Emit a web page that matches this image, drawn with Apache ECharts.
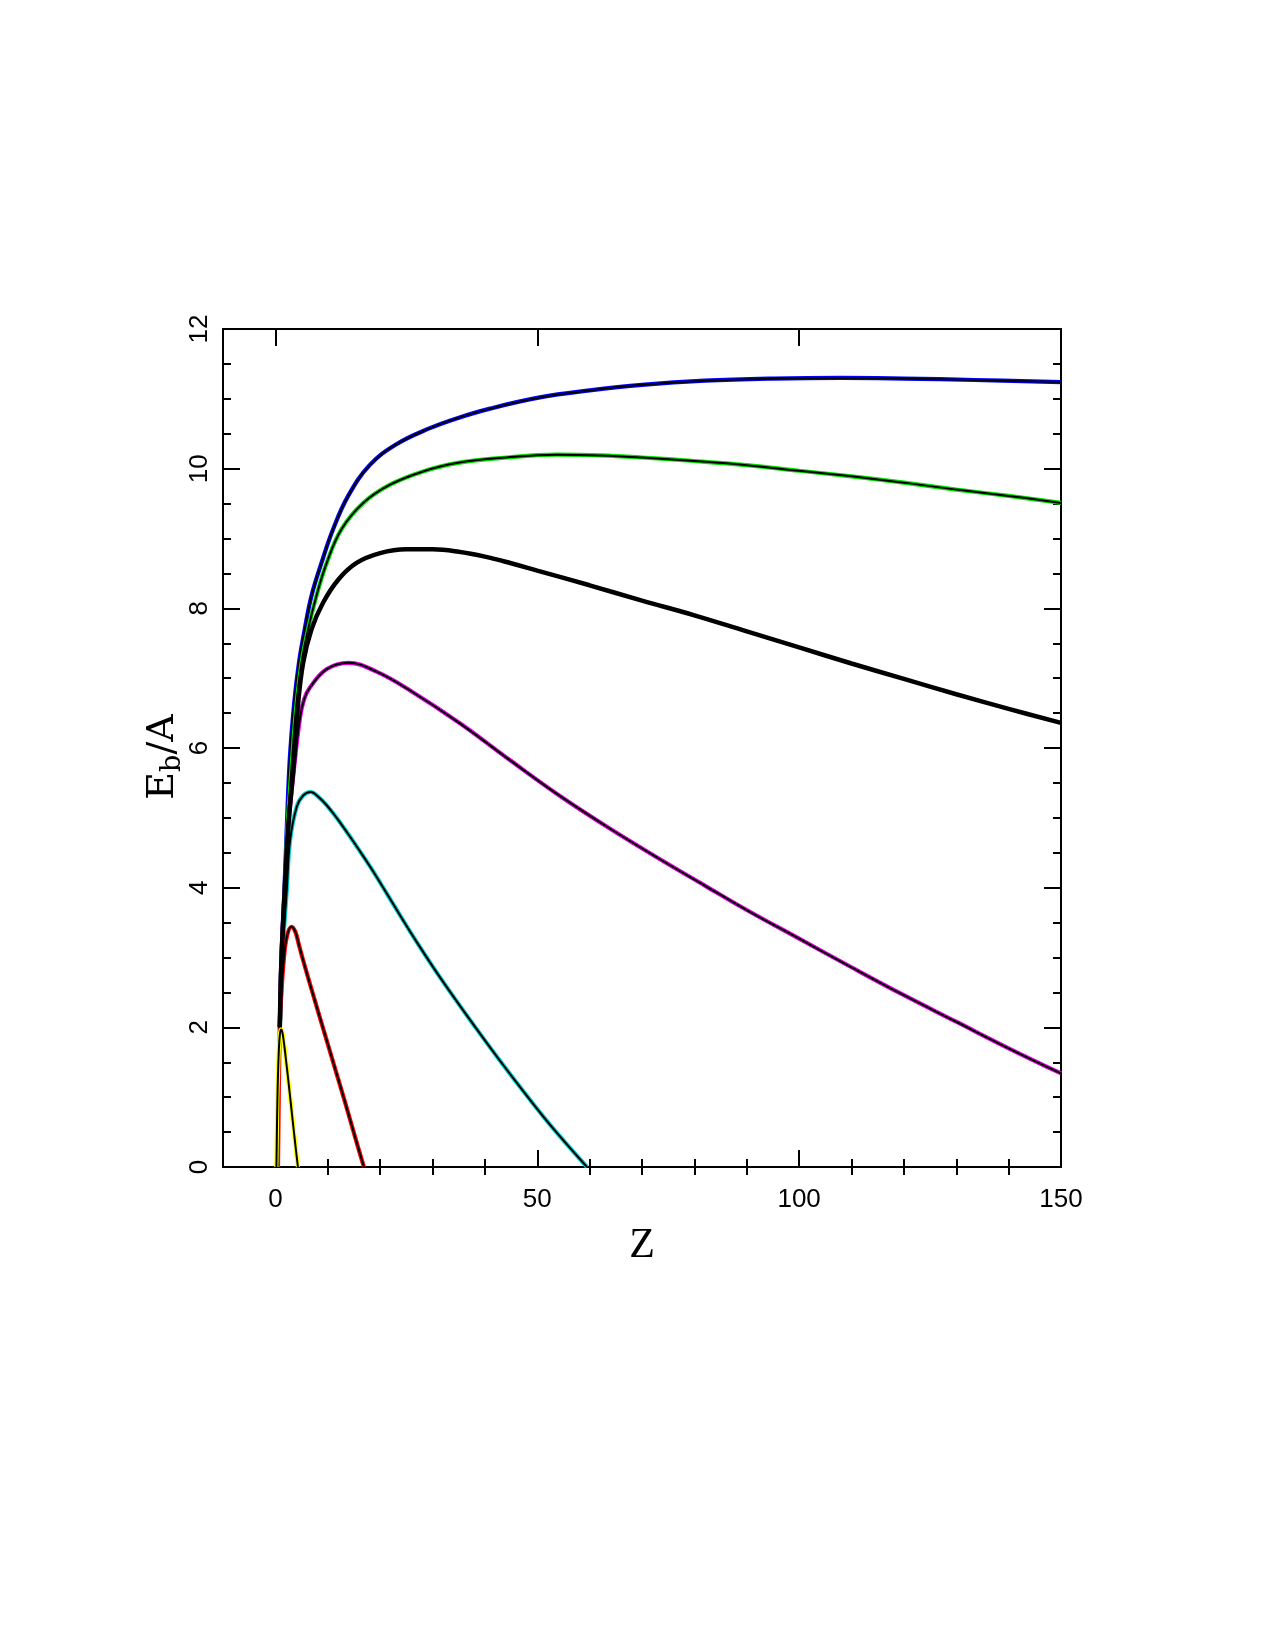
<!DOCTYPE html>
<html>
<head>
<meta charset="utf-8">
<title>Eb/A vs Z</title>
<script src="https://cdn.jsdelivr.net/npm/echarts@6/dist/echarts.min.js"></script>
<style>
  html, body { margin: 0; padding: 0; background: #fff; }
  #container { width: 1275px; height: 1650px; }
</style>
</head>
<body>
<div id="container"></div>
<script>
// values (Z, Eb/A)
var blueZ   = [0.85, 1.15, 1.7, 2.2, 2.75, 3.6, 4.5, 5.6, 6.9, 8.8, 11, 13.9, 18, 23.1, 29.5, 34.6, 41, 50.5, 60, 70, 82, 95, 108, 120, 133.5, 150];
var blueE   = [2.0, 2.96, 3.92, 4.9, 5.84, 6.65, 7.22, 7.7, 8.18, 8.65, 9.13, 9.61, 10.05, 10.35, 10.58, 10.72, 10.86, 11.02, 11.12, 11.2, 11.26, 11.29, 11.3, 11.29, 11.27, 11.24];

var greenZ  = [0.85, 1.15, 1.75, 2.35, 3.2, 4.0, 5.0, 6.25, 7.85, 9.8, 12.6, 16.8, 21.9, 28.2, 34.6, 44.2, 53.7, 62, 70, 80, 90, 100, 110, 120, 130, 140, 150];
var greenE  = [2.0, 2.96, 3.92, 4.9, 5.84, 6.6, 7.22, 7.7, 8.18, 8.65, 9.13, 9.51, 9.77, 9.96, 10.08, 10.16, 10.2, 10.19, 10.16, 10.11, 10.05, 9.97, 9.89, 9.8, 9.7, 9.61, 9.51];

var blackZ  = [0.85, 1.15, 1.75, 2.5, 3.6, 4.3, 5.3, 6.9, 9.1, 12, 15.5, 20, 25, 30, 35, 40, 45, 50, 60, 70, 80, 90, 100, 110, 120, 130, 140, 150];
var blackE  = [2.0, 2.96, 3.92, 4.9, 5.84, 6.6, 7.22, 7.7, 8.08, 8.41, 8.65, 8.79, 8.845, 8.845, 8.81, 8.74, 8.645, 8.54, 8.33, 8.11, 7.9, 7.67, 7.44, 7.21, 6.99, 6.77, 6.56, 6.36];

var purpleZ = [0.85, 1.15, 1.75, 2.5, 3.45, 4.72, 5.5, 6.63, 9.82, 13.96, 19.4, 25.8, 35.3, 44.9, 54.4, 64, 73.6, 82, 90, 100, 110, 120, 130, 140, 150];
var purpleE = [2.0, 2.96, 3.92, 4.9, 5.63, 6.44, 6.7, 6.87, 7.13, 7.22, 7.09, 6.82, 6.35, 5.82, 5.31, 4.84, 4.4, 4.03, 3.68, 3.27, 2.86, 2.46, 2.08, 1.7, 1.34];

var tealZ   = [0.85, 1.15, 1.53, 2.17, 2.81, 4.08, 5.3, 6.76, 8.2, 9.8, 11.7, 13.6, 15.8, 18.1, 21, 24, 27, 30.5, 34, 38, 42.6, 47.5, 52.5, 59.5];
var tealE   = [2.0, 2.6, 3.25, 3.96, 4.68, 5.16, 5.32, 5.37, 5.3, 5.18, 5.0, 4.8, 4.56, 4.3, 3.95, 3.58, 3.22, 2.82, 2.44, 2.02, 1.55, 1.07, 0.6, 0];

var redZ    = [0.5, 0.84, 1.15, 1.6, 2.2, 3.07, 3.8, 4.5, 5.3, 7.0, 9.1, 11.2, 13.3, 15.1, 16.9];
var redE    = [0, 2.01, 2.49, 2.96, 3.3, 3.44, 3.37, 3.18, 2.96, 2.52, 1.99, 1.46, 0.93, 0.46, 0];

var yellowZ = [0.2, 0.4, 0.65, 0.9, 1.15, 1.45, 2.0, 2.75, 3.5, 4.3];
var yellowE = [0, 1.0, 1.65, 1.92, 1.97, 1.88, 1.55, 1.05, 0.53, 0];

var xMajor = [0, 50, 100, 150];
var xMinor = [10, 20, 30, 40, 60, 70, 80, 90, 110, 120, 130, 140];

function pairs(zs, es) {
    var out = [];
    for (var i = 0; i < zs.length; i++) out.push([zs[i], es[i]]);
    return out;
}

function line(data, color, width, z) {
    return {
        type: 'line',
        data: data,
        showSymbol: false,
        smooth: 0.4,
        z: z,
        lineStyle: { color: color, width: width },
        emphasis: { disabled: true }
    };
}

// coloured curves: colour outline with a black core
var curves = [
    [blueZ, blueE, '#0000ff'],
    [greenZ, greenE, '#00dd00'],
    [purpleZ, purpleE, '#dd00dd'],
    [tealZ, tealE, '#00cccc'],
    [redZ, redE, '#ff0000'],
    [yellowZ, yellowE, '#ffff00']
];

var series = [];
curves.forEach(function (c, i) {
    var d = pairs(c[0], c[1]);
    series.push(line(d, c[2], 4.2, 2 + i * 2));
    series.push(line(d, '#000', 2, 3 + i * 2));
});
series.push(line(pairs(blackZ, blackE), '#000', 4.5, 20));

var axisCol = { color: '#000', width: 2 };
var labelFont = { color: '#000', fontSize: 26, fontFamily: 'Liberation Sans' };

var myChart = echarts.init(document.getElementById('container'));
var option = {
    backgroundColor: '#fff',
    animation: false,
    grid: { left: 223, right: 214, top: 329, bottom: 483 },
    // y axis title, rotated, with subscript
    graphic: [{
        type: 'text',
        x: 163,
        y: 757,
        rotation: Math.PI / 2,
        style: {
            text: '{e|E}{s|b}{e|/A}',
            align: 'center',
            verticalAlign: 'middle',
            fill: '#000',
            rich: {
                e: { fontSize: 38, fontFamily: 'DejaVu Serif', fill: '#000' },
                s: { fontSize: 27, fontFamily: 'DejaVu Serif', fill: '#000', padding: [20, 0, 0, 0] }
            }
        }
    }],
    xAxis: [
        {
            type: 'value', min: -10, max: 150, position: 'bottom',
            axisLine: { show: true, onZero: false, lineStyle: axisCol },
            axisTick: { show: true, inside: true, length: 17, customValues: xMajor, lineStyle: axisCol },
            axisLabel: Object.assign({ customValues: xMajor, margin: 20 }, labelFont),
            splitLine: { show: false },
            name: 'Z', nameLocation: 'middle', nameGap: 58,
            nameTextStyle: { color: '#000', fontSize: 42, fontFamily: 'Liberation Serif' }
        },
        {
            type: 'value', min: -10, max: 150, position: 'bottom',
            axisLine: { show: false },
            axisTick: { show: true, inside: true, length: 8, customValues: xMinor, lineStyle: axisCol },
            axisLabel: { show: false },
            splitLine: { show: false }
        },
        {
            type: 'value', min: -10, max: 150, position: 'top',
            axisLine: { show: true, onZero: false, lineStyle: axisCol },
            axisTick: { show: true, inside: true, length: 17, customValues: xMajor, lineStyle: axisCol },
            axisLabel: { show: false },
            splitLine: { show: false }
        },
        {
            type: 'value', min: -10, max: 150, position: 'top',
            axisLine: { show: false },
            axisTick: { show: true, inside: true, length: 8, customValues: xMinor, lineStyle: axisCol },
            axisLabel: { show: false },
            splitLine: { show: false }
        }
    ],
    yAxis: [
        {
            type: 'value', min: 0, max: 12, interval: 2, position: 'left',
            axisLine: { show: true, onZero: false, lineStyle: axisCol },
            axisTick: { show: true, inside: true, length: 17, lineStyle: axisCol },
            minorTick: { show: true, splitNumber: 4, length: 8, lineStyle: axisCol },
            axisLabel: Object.assign({ rotate: 90, margin: 10 }, labelFont),
            splitLine: { show: false }
        },
        {
            type: 'value', min: 0, max: 12, interval: 2, position: 'right',
            axisLine: { show: true, onZero: false, lineStyle: axisCol },
            axisTick: { show: true, inside: true, length: 17, lineStyle: axisCol },
            minorTick: { show: true, splitNumber: 4, length: 8, lineStyle: axisCol },
            axisLabel: { show: false },
            splitLine: { show: false }
        }
    ],
    series: series
};
myChart.setOption(option);
</script>
</body>
</html>
